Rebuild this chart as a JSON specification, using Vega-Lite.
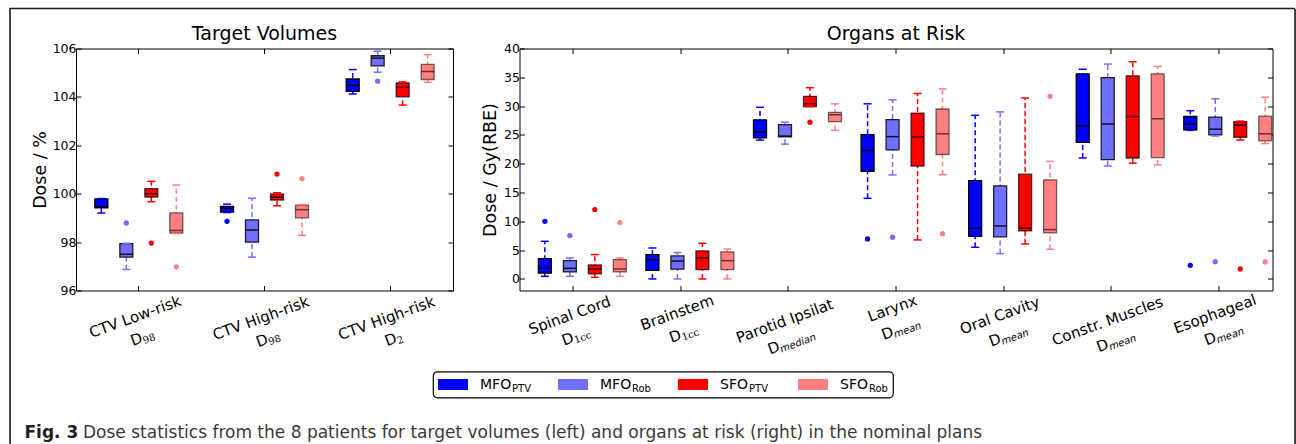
{
  "$schema": "https://vega.github.io/schema/vega-lite/v6.json",
  "background": "white",
  "padding": {"left": 9, "top": 7.5, "right": 0, "bottom": 0},
  "spacing": -1,
  "datasets": {
    "tv": [
      {"cat": "CTV Low-risk D98", "group": "MFO_PTV", "lo": 99.2, "q1": 99.42, "med": 99.45, "q3": 99.78, "hi": 99.8},
      {"cat": "CTV Low-risk D98", "group": "MFO_Rob", "lo": 96.87, "q1": 97.38, "med": 97.5, "q3": 97.94, "hi": 97.95},
      {"cat": "CTV Low-risk D98", "group": "SFO_PTV", "lo": 99.67, "q1": 99.86, "med": 100.0, "q3": 100.21, "hi": 100.51},
      {"cat": "CTV Low-risk D98", "group": "SFO_Rob", "lo": 98.35, "q1": 98.37, "med": 98.48, "q3": 99.21, "hi": 100.36},
      {"cat": "CTV High-risk D98", "group": "MFO_PTV", "lo": 99.22, "q1": 99.24, "med": 99.4, "q3": 99.48, "hi": 99.57},
      {"cat": "CTV High-risk D98", "group": "MFO_Rob", "lo": 97.38, "q1": 98.0, "med": 98.5, "q3": 98.92, "hi": 99.81},
      {"cat": "CTV High-risk D98", "group": "SFO_PTV", "lo": 99.5, "q1": 99.74, "med": 99.86, "q3": 99.99, "hi": 100.04},
      {"cat": "CTV High-risk D98", "group": "SFO_Rob", "lo": 98.28, "q1": 99.0, "med": 99.34, "q3": 99.53, "hi": 99.55},
      {"cat": "CTV High-risk D2", "group": "MFO_PTV", "lo": 104.12, "q1": 104.23, "med": 104.48, "q3": 104.74, "hi": 105.13},
      {"cat": "CTV High-risk D2", "group": "MFO_Rob", "lo": 105.02, "q1": 105.28, "med": 105.6, "q3": 105.7, "hi": 105.89},
      {"cat": "CTV High-risk D2", "group": "SFO_PTV", "lo": 103.66, "q1": 104.0, "med": 104.4, "q3": 104.58, "hi": 104.62},
      {"cat": "CTV High-risk D2", "group": "SFO_Rob", "lo": 104.6, "q1": 104.72, "med": 105.05, "q3": 105.34, "hi": 105.75}
    ],
    "tvOut": [
      {"cat": "CTV Low-risk D98", "group": "MFO_Rob", "v": 98.79},
      {"cat": "CTV Low-risk D98", "group": "SFO_PTV", "v": 97.96},
      {"cat": "CTV Low-risk D98", "group": "SFO_Rob", "v": 96.98},
      {"cat": "CTV High-risk D98", "group": "MFO_PTV", "v": 98.86},
      {"cat": "CTV High-risk D98", "group": "SFO_PTV", "v": 100.81},
      {"cat": "CTV High-risk D98", "group": "SFO_Rob", "v": 100.62},
      {"cat": "CTV High-risk D2", "group": "MFO_Rob", "v": 104.65}
    ],
    "tvLabels": [
      {"cat": "CTV Low-risk D98", "name": "CTV Low-risk", "sub": "98"},
      {"cat": "CTV High-risk D98", "name": "CTV High-risk", "sub": "98"},
      {"cat": "CTV High-risk D2", "name": "CTV High-risk", "sub": "2"}
    ],
    "oar": [
      {"cat": "Spinal Cord", "group": "MFO_PTV", "lo": 0.46, "q1": 1.04, "med": 1.85, "q3": 3.53, "hi": 6.54},
      {"cat": "Spinal Cord", "group": "MFO_Rob", "lo": 0.46, "q1": 1.22, "med": 1.85, "q3": 3.18, "hi": 3.65},
      {"cat": "Spinal Cord", "group": "SFO_PTV", "lo": 0.29, "q1": 0.87, "med": 1.74, "q3": 2.43, "hi": 4.23},
      {"cat": "Spinal Cord", "group": "SFO_Rob", "lo": 0.46, "q1": 1.22, "med": 1.74, "q3": 3.36, "hi": 3.65},
      {"cat": "Brainstem", "group": "MFO_PTV", "lo": 0.0, "q1": 1.5, "med": 3.36, "q3": 4.23, "hi": 5.38},
      {"cat": "Brainstem", "group": "MFO_Rob", "lo": 0.0, "q1": 1.7, "med": 3.1, "q3": 4.0, "hi": 4.6},
      {"cat": "Brainstem", "group": "SFO_PTV", "lo": 0.0, "q1": 1.62, "med": 3.65, "q3": 4.86, "hi": 6.19},
      {"cat": "Brainstem", "group": "SFO_Rob", "lo": 0.0, "q1": 1.62, "med": 3.18, "q3": 4.69, "hi": 5.21},
      {"cat": "Parotid Ipsilat", "group": "MFO_PTV", "lo": 24.1, "q1": 24.5, "med": 25.5, "q3": 27.6, "hi": 29.8},
      {"cat": "Parotid Ipsilat", "group": "MFO_Rob", "lo": 23.4, "q1": 24.66, "med": 24.8, "q3": 26.8, "hi": 27.2},
      {"cat": "Parotid Ipsilat", "group": "SFO_PTV", "lo": 29.9, "q1": 29.9, "med": 30.4, "q3": 31.7, "hi": 33.2},
      {"cat": "Parotid Ipsilat", "group": "SFO_Rob", "lo": 25.8, "q1": 27.3, "med": 28.5, "q3": 28.9, "hi": 30.4},
      {"cat": "Larynx", "group": "MFO_PTV", "lo": 14.0, "q1": 18.7, "med": 22.3, "q3": 25.07, "hi": 30.4},
      {"cat": "Larynx", "group": "MFO_Rob", "lo": 18.06, "q1": 22.4, "med": 24.7, "q3": 27.67, "hi": 31.1},
      {"cat": "Larynx", "group": "SFO_PTV", "lo": 6.77, "q1": 19.6, "med": 24.66, "q3": 28.8, "hi": 32.2},
      {"cat": "Larynx", "group": "SFO_Rob", "lo": 18.1, "q1": 21.6, "med": 25.2, "q3": 29.5, "hi": 33.0},
      {"cat": "Oral Cavity", "group": "MFO_PTV", "lo": 5.5, "q1": 7.41, "med": 8.8, "q3": 17.08, "hi": 28.4},
      {"cat": "Oral Cavity", "group": "MFO_Rob", "lo": 4.4, "q1": 7.3, "med": 9.2, "q3": 16.15, "hi": 29.0},
      {"cat": "Oral Cavity", "group": "SFO_PTV", "lo": 6.08, "q1": 8.34, "med": 8.8, "q3": 18.18, "hi": 31.4},
      {"cat": "Oral Cavity", "group": "SFO_Rob", "lo": 5.15, "q1": 7.99, "med": 8.57, "q3": 17.2, "hi": 20.4},
      {"cat": "Constr. Muscles", "group": "MFO_PTV", "lo": 21.0, "q1": 23.7, "med": 26.6, "q3": 35.6, "hi": 36.4},
      {"cat": "Constr. Muscles", "group": "MFO_Rob", "lo": 19.6, "q1": 20.7, "med": 26.9, "q3": 34.96, "hi": 37.3},
      {"cat": "Constr. Muscles", "group": "SFO_PTV", "lo": 20.1, "q1": 21.0, "med": 28.2, "q3": 35.25, "hi": 37.7},
      {"cat": "Constr. Muscles", "group": "SFO_Rob", "lo": 19.8, "q1": 21.07, "med": 27.8, "q3": 35.6, "hi": 36.9},
      {"cat": "Esophageal", "group": "MFO_PTV", "lo": 25.8, "q1": 25.9, "med": 26.86, "q3": 28.2, "hi": 29.2},
      {"cat": "Esophageal", "group": "MFO_Rob", "lo": 24.8, "q1": 25.0, "med": 26.0, "q3": 28.1, "hi": 31.26},
      {"cat": "Esophageal", "group": "SFO_PTV", "lo": 24.1, "q1": 24.6, "med": 26.7, "q3": 27.3, "hi": 27.4},
      {"cat": "Esophageal", "group": "SFO_Rob", "lo": 23.5, "q1": 23.97, "med": 25.2, "q3": 28.25, "hi": 31.55}
    ],
    "oarOut": [
      {"cat": "Spinal Cord", "group": "MFO_PTV", "v": 10.0},
      {"cat": "Spinal Cord", "group": "MFO_Rob", "v": 7.53},
      {"cat": "Spinal Cord", "group": "SFO_PTV", "v": 12.04},
      {"cat": "Spinal Cord", "group": "SFO_Rob", "v": 9.78},
      {"cat": "Parotid Ipsilat", "group": "SFO_PTV", "v": 27.2},
      {"cat": "Larynx", "group": "MFO_PTV", "v": 6.95},
      {"cat": "Larynx", "group": "MFO_Rob", "v": 7.24},
      {"cat": "Larynx", "group": "SFO_Rob", "v": 7.87},
      {"cat": "Oral Cavity", "group": "SFO_Rob", "v": 31.7},
      {"cat": "Esophageal", "group": "MFO_PTV", "v": 2.37},
      {"cat": "Esophageal", "group": "MFO_Rob", "v": 3.0},
      {"cat": "Esophageal", "group": "SFO_PTV", "v": 1.74},
      {"cat": "Esophageal", "group": "SFO_Rob", "v": 2.95}
    ],
    "oarLabels": [
      {"cat": "Spinal Cord", "name": "Spinal Cord", "sub": "1cc"},
      {"cat": "Brainstem", "name": "Brainstem", "sub": "1cc"},
      {"cat": "Parotid Ipsilat", "name": "Parotid Ipsilat", "sub": "median"},
      {"cat": "Larynx", "name": "Larynx", "sub": "mean"},
      {"cat": "Oral Cavity", "name": "Oral Cavity", "sub": "mean"},
      {"cat": "Constr. Muscles", "name": "Constr. Muscles", "sub": "mean"},
      {"cat": "Esophageal", "name": "Esophageal", "sub": "mean"}
    ],
    "legend": [
      {"group": "MFO_PTV", "main": "MFO", "sub": "PTV"},
      {"group": "MFO_Rob", "main": "MFO", "sub": "Rob"},
      {"group": "SFO_PTV", "main": "SFO", "sub": "PTV"},
      {"group": "SFO_Rob", "main": "SFO", "sub": "Rob"}
    ]
  },
  "vconcat": [
    {
      "width": 1284,
      "height": 0.1,
      "view": {"stroke": "#1a1a1a", "strokeWidth": 1.5},
      "data": {"values": []},
      "mark": "point"
    },
    {
      "spacing": 13,
      "hconcat": [
        {
          "width": 0.1,
          "height": 440,
          "view": {"stroke": "#1a1a1a", "strokeWidth": 1.5},
          "data": {"values": []},
          "mark": "point"
        },
        {
          "spacing": 13,
          "vconcat": [
            {
              "width": 1,
              "height": 0.1,
              "view": {"stroke": null},
              "data": {"values": []},
              "mark": "point"
            },
            {
              "spacing": 12,
              "vconcat": [
                {
                  "spacing": 26.5,
                  "hconcat": [
                    {
                      "width": 377,
                      "height": 242,
                      "title": {"text": "Target Volumes"},
                      "resolve": {"axis": {"x": "independent", "y": "independent"}},
                      "layer": [
                        {
                          "data": {"name": "tv"},
                          "mark": {"type": "rule", "strokeDash": [5, 3], "strokeWidth": 1.5},
                          "encoding": {
                            "x": {"field": "cat", "type": "nominal", "scale": {"domain": ["CTV Low-risk D98", "CTV High-risk D98", "CTV High-risk D2"], "paddingInner": 0, "paddingOuter": 0}, "axis": {"orient": "bottom", "labels": false, "tickSize": -5, "title": null}},
                            "xOffset": {"field": "group", "type": "nominal", "scale": {"domain": ["MFO_PTV", "MFO_Rob", "SFO_PTV", "SFO_Rob"], "paddingInner": 0.48, "paddingOuter": 0.755}},
                            "y": {"field": "lo", "type": "quantitative", "scale": {"domain": [96, 106], "nice": false, "zero": false}, "axis": {"orient": "left", "values": [96, 98, 100, 102, 104, 106], "tickSize": -5, "labelPadding": 5, "title": "Dose / %", "titlePadding": 3}},
                            "y2": {"field": "hi"},
                            "color": {"field": "group", "type": "nominal", "scale": {"domain": ["MFO_PTV", "MFO_Rob", "SFO_PTV", "SFO_Rob"], "range": ["#0000ff", "#7070ff", "#ff0000", "#ff8080"]}, "legend": null}
                          }
                        },
                        {
                          "data": {"name": "tv"},
                          "mark": {"type": "bar", "stroke": "black", "strokeWidth": 1.3, "opacity": 1},
                          "encoding": {
                            "x": {"field": "cat", "type": "nominal", "axis": null},
                            "xOffset": {"field": "group", "type": "nominal"},
                            "y": {"field": "q1", "type": "quantitative", "axis": null},
                            "y2": {"field": "q3"},
                            "color": {"field": "group", "type": "nominal", "legend": null},
                            "strokeOpacity": {"field": "group", "type": "nominal", "scale": {"domain": ["MFO_PTV", "MFO_Rob", "SFO_PTV", "SFO_Rob"], "range": [1, 0.55, 1, 0.55]}, "legend": null}
                          }
                        },
                        {
                          "data": {"name": "tv"},
                          "mark": {"type": "tick", "orient": "horizontal", "size": 8, "thickness": 1.5, "opacity": 1},
                          "encoding": {
                            "x": {"field": "cat", "type": "nominal", "axis": {"orient": "top", "labels": false, "tickSize": -5, "title": null}},
                            "xOffset": {"field": "group", "type": "nominal"},
                            "y": {"field": "hi", "type": "quantitative", "axis": {"orient": "right", "labels": false, "tickSize": -5, "title": null, "values": [96, 98, 100, 102, 104, 106]}},
                            "color": {"field": "group", "type": "nominal", "legend": null}
                          }
                        },
                        {
                          "data": {"name": "tv"},
                          "mark": {"type": "tick", "orient": "horizontal", "size": 8, "thickness": 1.5, "opacity": 1},
                          "encoding": {
                            "x": {"field": "cat", "type": "nominal", "axis": null},
                            "xOffset": {"field": "group", "type": "nominal"},
                            "y": {"field": "lo", "type": "quantitative", "axis": null},
                            "color": {"field": "group", "type": "nominal", "legend": null}
                          }
                        },
                        {
                          "data": {"name": "tv"},
                          "mark": {"type": "tick", "orient": "horizontal", "size": 13, "thickness": 1.5, "color": "black"},
                          "encoding": {
                            "x": {"field": "cat", "type": "nominal", "axis": null},
                            "xOffset": {"field": "group", "type": "nominal"},
                            "y": {"field": "med", "type": "quantitative", "axis": null},
                            "opacity": {"field": "group", "type": "nominal", "scale": {"domain": ["MFO_PTV", "MFO_Rob", "SFO_PTV", "SFO_Rob"], "range": [1, 0.6, 1, 0.6]}, "legend": null}
                          }
                        },
                        {
                          "data": {"name": "tvOut"},
                          "mark": {"type": "point", "filled": true, "size": 28, "opacity": 1},
                          "encoding": {
                            "x": {"field": "cat", "type": "nominal", "axis": null},
                            "xOffset": {"field": "group", "type": "nominal"},
                            "y": {"field": "v", "type": "quantitative", "axis": null},
                            "color": {"field": "group", "type": "nominal", "legend": null}
                          }
                        },
                        {
                          "data": {"name": "tvLabels"},
                          "mark": {"type": "text", "font": "DejaVu Sans", "fontSize": 15, "angle": 340, "align": "center", "baseline": "middle", "color": "black", "dx": {"expr": "-6.8 - 0.474*length(datum.name)"}, "dy": {"expr": "7.9 + 1.3*length(datum.name)"}},
                          "encoding": {
                            "x": {"field": "cat", "type": "nominal", "axis": null},
                            "y": {"datum": 96, "type": "quantitative", "axis": null},
                            "text": {"field": "name"}
                          }
                        },
                        {
                          "data": {"name": "tvLabels"},
                          "mark": {"type": "text", "font": "DejaVu Sans", "fontSize": 15, "angle": 340, "align": "right", "baseline": "middle", "color": "black", "text": "D", "dx": {"expr": "-1.05 - 0.474*length(datum.name) - 3.25*length(datum.sub)"}, "dy": {"expr": "29.4 + 1.3*length(datum.name)"}},
                          "encoding": {
                            "x": {"field": "cat", "type": "nominal", "axis": null},
                            "y": {"datum": 96, "type": "quantitative", "axis": null}
                          }
                        },
                        {
                          "data": {"name": "tvLabels"},
                          "mark": {"type": "text", "font": "DejaVu Serif", "fontSize": 10, "angle": 340, "align": "left", "baseline": "middle", "color": "black", "dx": {"expr": "-1.05 - 0.474*length(datum.name) - 3.25*length(datum.sub)"}, "dy": {"expr": "33.4 + 1.3*length(datum.name)"}},
                          "encoding": {
                            "x": {"field": "cat", "type": "nominal", "axis": null},
                            "y": {"datum": 96, "type": "quantitative", "axis": null},
                            "text": {"field": "sub"}
                          }
                        }
                      ]
                    },
                    {
                      "width": 753,
                      "height": 242,
                      "title": {"text": "Organs at Risk"},
                      "resolve": {"axis": {"x": "independent", "y": "independent"}},
                      "layer": [
                        {
                          "data": {"name": "oar"},
                          "mark": {"type": "rule", "strokeDash": [5, 3], "strokeWidth": 1.5},
                          "encoding": {
                            "x": {"field": "cat", "type": "nominal", "scale": {"domain": ["Spinal Cord", "Brainstem", "Parotid Ipsilat", "Larynx", "Oral Cavity", "Constr. Muscles", "Esophageal"], "paddingInner": 0, "paddingOuter": 0}, "axis": {"orient": "bottom", "labels": false, "tickSize": -5, "title": null}},
                            "xOffset": {"field": "group", "type": "nominal", "scale": {"domain": ["MFO_PTV", "MFO_Rob", "SFO_PTV", "SFO_Rob"], "paddingInner": 0.45, "paddingOuter": 0.705}},
                            "y": {"field": "lo", "type": "quantitative", "scale": {"domain": [-2, 40], "nice": false, "zero": false}, "axis": {"orient": "left", "values": [0, 5, 10, 15, 20, 25, 30, 35, 40], "tickSize": -5, "labelPadding": 5, "title": "Dose / Gy(RBE)", "titlePadding": 4}},
                            "y2": {"field": "hi"},
                            "color": {"field": "group", "type": "nominal", "scale": {"domain": ["MFO_PTV", "MFO_Rob", "SFO_PTV", "SFO_Rob"], "range": ["#0000ff", "#7070ff", "#ff0000", "#ff8080"]}, "legend": null}
                          }
                        },
                        {
                          "data": {"name": "oar"},
                          "mark": {"type": "bar", "stroke": "black", "strokeWidth": 1.3, "opacity": 1},
                          "encoding": {
                            "x": {"field": "cat", "type": "nominal", "axis": null},
                            "xOffset": {"field": "group", "type": "nominal"},
                            "y": {"field": "q1", "type": "quantitative", "axis": null},
                            "y2": {"field": "q3"},
                            "color": {"field": "group", "type": "nominal", "legend": null},
                            "strokeOpacity": {"field": "group", "type": "nominal", "scale": {"domain": ["MFO_PTV", "MFO_Rob", "SFO_PTV", "SFO_Rob"], "range": [1, 0.55, 1, 0.55]}, "legend": null}
                          }
                        },
                        {
                          "data": {"name": "oar"},
                          "mark": {"type": "tick", "orient": "horizontal", "size": 8, "thickness": 1.5, "opacity": 1},
                          "encoding": {
                            "x": {"field": "cat", "type": "nominal", "axis": {"orient": "top", "labels": false, "tickSize": -5, "title": null}},
                            "xOffset": {"field": "group", "type": "nominal"},
                            "y": {"field": "hi", "type": "quantitative", "axis": {"orient": "right", "labels": false, "tickSize": -5, "title": null, "values": [0, 5, 10, 15, 20, 25, 30, 35, 40]}},
                            "color": {"field": "group", "type": "nominal", "legend": null}
                          }
                        },
                        {
                          "data": {"name": "oar"},
                          "mark": {"type": "tick", "orient": "horizontal", "size": 8, "thickness": 1.5, "opacity": 1},
                          "encoding": {
                            "x": {"field": "cat", "type": "nominal", "axis": null},
                            "xOffset": {"field": "group", "type": "nominal"},
                            "y": {"field": "lo", "type": "quantitative", "axis": null},
                            "color": {"field": "group", "type": "nominal", "legend": null}
                          }
                        },
                        {
                          "data": {"name": "oar"},
                          "mark": {"type": "tick", "orient": "horizontal", "size": 12, "thickness": 1.5, "color": "black"},
                          "encoding": {
                            "x": {"field": "cat", "type": "nominal", "axis": null},
                            "xOffset": {"field": "group", "type": "nominal"},
                            "y": {"field": "med", "type": "quantitative", "axis": null},
                            "opacity": {"field": "group", "type": "nominal", "scale": {"domain": ["MFO_PTV", "MFO_Rob", "SFO_PTV", "SFO_Rob"], "range": [1, 0.6, 1, 0.6]}, "legend": null}
                          }
                        },
                        {
                          "data": {"name": "oarOut"},
                          "mark": {"type": "point", "filled": true, "size": 28, "opacity": 1},
                          "encoding": {
                            "x": {"field": "cat", "type": "nominal", "axis": null},
                            "xOffset": {"field": "group", "type": "nominal"},
                            "y": {"field": "v", "type": "quantitative", "axis": null},
                            "color": {"field": "group", "type": "nominal", "legend": null}
                          }
                        },
                        {
                          "data": {"name": "oarLabels"},
                          "mark": {"type": "text", "font": "DejaVu Sans", "fontSize": 15, "angle": 340, "align": "center", "baseline": "middle", "color": "black", "dx": {"expr": "-6.8 - 0.474*length(datum.name)"}, "dy": {"expr": "7.9 + 1.3*length(datum.name)"}},
                          "encoding": {
                            "x": {"field": "cat", "type": "nominal", "axis": null},
                            "y": {"datum": -2, "type": "quantitative", "axis": null},
                            "text": {"field": "name"}
                          }
                        },
                        {
                          "data": {"name": "oarLabels"},
                          "mark": {"type": "text", "font": "DejaVu Sans", "fontSize": 15, "angle": 340, "align": "right", "baseline": "middle", "color": "black", "text": "D", "dx": {"expr": "-1.05 - 0.474*length(datum.name) - 3.25*length(datum.sub)"}, "dy": {"expr": "29.4 + 1.3*length(datum.name)"}},
                          "encoding": {
                            "x": {"field": "cat", "type": "nominal", "axis": null},
                            "y": {"datum": -2, "type": "quantitative", "axis": null}
                          }
                        },
                        {
                          "data": {"name": "oarLabels"},
                          "mark": {"type": "text", "fontSize": 10, "angle": 340, "align": "left", "baseline": "middle", "color": "black", "font": {"expr": "datum.sub === '1cc' ? 'DejaVu Serif' : 'DejaVu Sans'"}, "fontStyle": {"expr": "datum.sub === '1cc' ? 'normal' : 'italic'"}, "dx": {"expr": "-1.05 - 0.474*length(datum.name) - 3.25*length(datum.sub)"}, "dy": {"expr": "33.4 + 1.3*length(datum.name)"}},
                          "encoding": {
                            "x": {"field": "cat", "type": "nominal", "axis": null},
                            "y": {"datum": -2, "type": "quantitative", "axis": null},
                            "text": {"field": "sub"}
                          }
                        }
                      ]
                    }
                  ]
                },
                {
                  "spacing": 0,
                  "hconcat": [
                    {
                      "width": 355.5,
                      "height": 26,
                      "view": {"stroke": null},
                      "data": {"values": []},
                      "mark": "point"
                    },
                    {
                      "width": 460,
                      "height": 26,
                      "view": {"stroke": "black", "strokeWidth": 1.2, "cornerRadius": 4},
                      "data": {"name": "legend"},
                      "layer": [
                        {
                          "mark": {"type": "tick", "orient": "horizontal", "size": 30, "thickness": 11, "opacity": 1},
                          "encoding": {
                            "x": {"field": "group", "type": "nominal", "scale": {"domain": ["MFO_PTV", "MFO_Rob", "SFO_PTV", "SFO_Rob"], "paddingInner": 0.6667, "paddingOuter": 0.25, "align": 0}, "axis": null},
                            "color": {"field": "group", "type": "nominal", "scale": {"domain": ["MFO_PTV", "MFO_Rob", "SFO_PTV", "SFO_Rob"], "range": ["#0000ff", "#7070ff", "#ff0000", "#ff8080"]}, "legend": null}
                          }
                        },
                        {
                          "mark": {"type": "text", "align": "left", "baseline": "middle", "dx": 27, "font": "DejaVu Sans", "fontSize": 14, "color": "black"},
                          "encoding": {
                            "x": {"field": "group", "type": "nominal", "axis": null},
                            "text": {"field": "main"}
                          }
                        },
                        {
                          "mark": {"type": "text", "align": "left", "baseline": "middle", "dx": {"expr": "datum.main === 'MFO' ? 59 : 56"}, "dy": 4, "font": "DejaVu Sans", "fontSize": 10, "color": "black"},
                          "encoding": {
                            "x": {"field": "group", "type": "nominal", "axis": null},
                            "text": {"field": "sub"}
                          }
                        }
                      ]
                    }
                  ]
                },
                {
                  "width": 1205,
                  "height": 45,
                  "view": {"stroke": null},
                  "data": {"values": [{"a": 1}]},
                  "layer": [
                    {
                      "mark": {"type": "text", "align": "left", "baseline": "middle", "dx": -51.5, "font": "DejaVu Sans", "fontWeight": "bold", "fontSize": 17, "color": "#231f20", "text": "Fig. 3"},
                      "encoding": {
                        "x": {"datum": 0, "type": "quantitative", "scale": {"domain": [0, 1]}, "axis": null}
                      }
                    },
                    {
                      "mark": {"type": "text", "align": "left", "baseline": "middle", "dx": 7, "font": "DejaVu Sans", "fontSize": 17, "color": "#3a3a3a", "text": "Dose statistics from the 8 patients for target volumes (left) and organs at risk (right) in the nominal plans"},
                      "encoding": {
                        "x": {"datum": 0, "type": "quantitative", "axis": null}
                      }
                    }
                  ]
                }
              ]
            }
          ]
        },
        {
          "width": 0.1,
          "height": 440,
          "view": {"stroke": "#1a1a1a", "strokeWidth": 1.5},
          "data": {"values": []},
          "mark": "point"
        }
      ]
    }
  ],
  "config": {
    "view": {"stroke": "black", "strokeWidth": 1},
    "font": "DejaVu Sans",
    "axis": {"grid": false, "domain": false, "tickColor": "black", "tickWidth": 1, "labelColor": "black", "titleColor": "black", "labelFont": "DejaVu Sans", "titleFont": "DejaVu Sans", "titleFontWeight": "normal", "labelFontSize": 12.5, "titleFontSize": 17.5},
    "title": {"font": "DejaVu Sans", "fontSize": 19, "fontWeight": "normal", "color": "black", "baseline": "alphabetic", "offset": -1, "anchor": "middle"}
  }
}
